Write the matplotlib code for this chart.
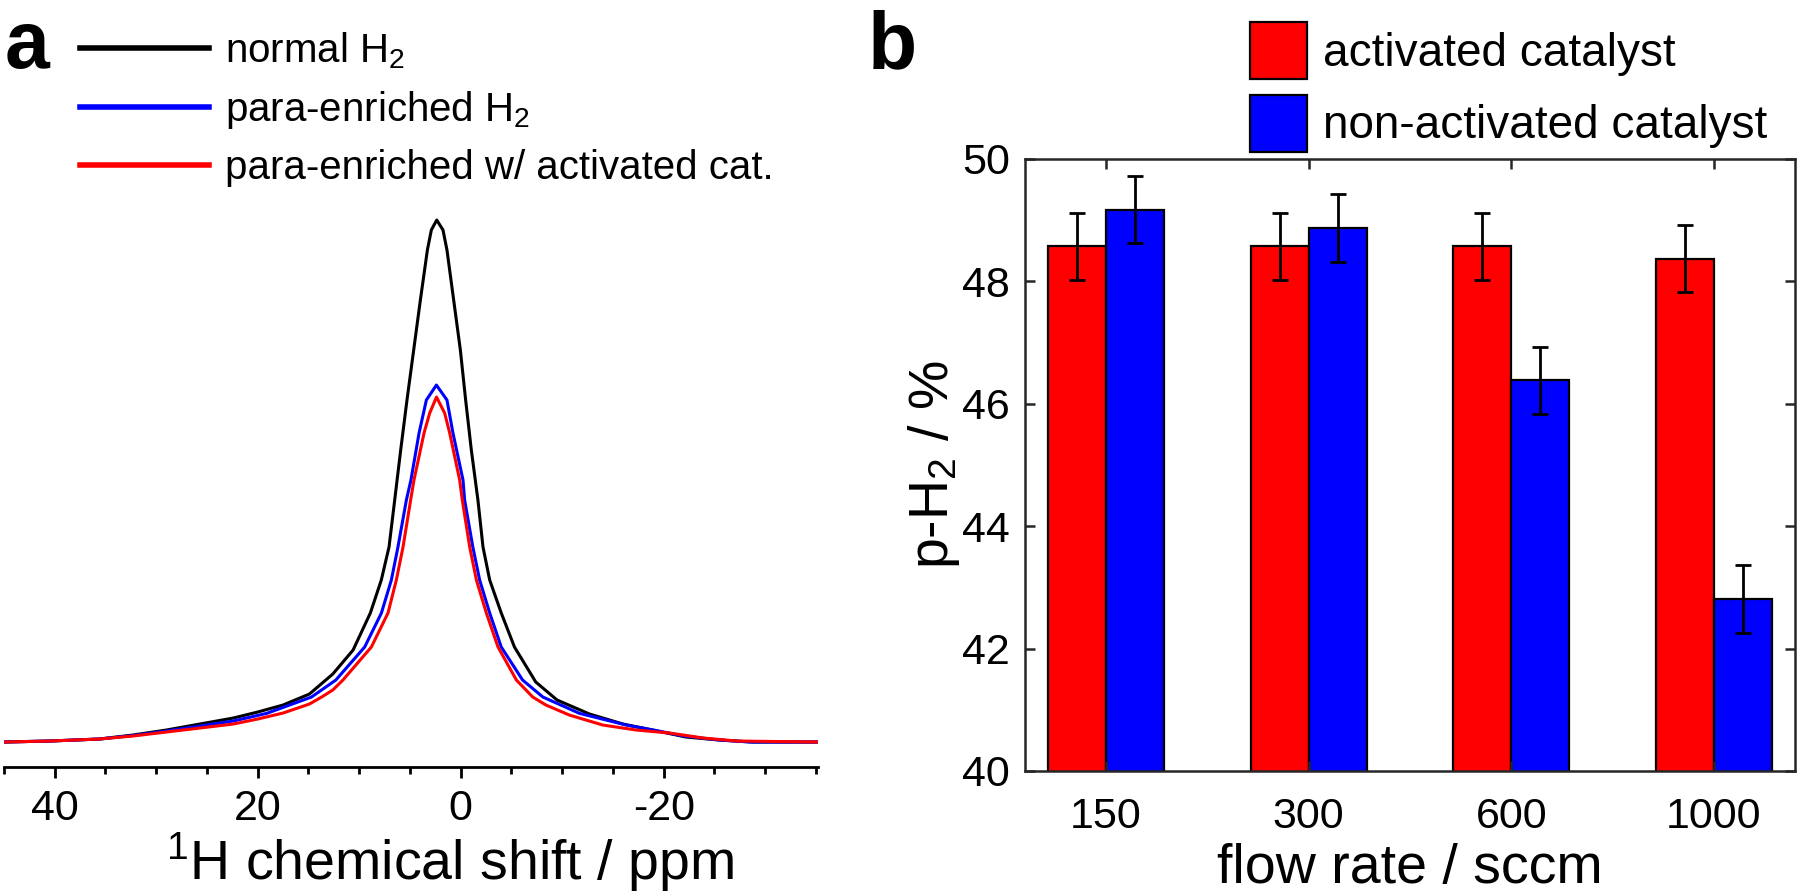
import numpy as np
import matplotlib
matplotlib.use("Agg")
import matplotlib.pyplot as plt
from matplotlib.lines import Line2D
from matplotlib.ticker import MultipleLocator

plt.rcParams['font.family'] = ['Liberation Sans', 'DejaVu Sans']
plt.rcParams['mathtext.fontset'] = 'custom'
plt.rcParams['mathtext.rm'] = 'Liberation Sans'
plt.rcParams['mathtext.it'] = 'Liberation Sans:italic'
plt.rcParams['axes.unicode_minus'] = False

# panel a: 1H spectra (ppm, intensity a.u.)
ppm_normal = [45, 40.5, 35.6, 32.3, 29.0, 25.7, 22.4, 20.0, 17.5, 14.9, 12.6, 10.6,
              8.9, 7.82, 7.06, 6.50, 5.91, 5.29, 4.63, 3.97, 3.28, 2.89, 2.36, 1.74,
              1.35, 0.69, 0.03, -0.49, -1.05, -1.70, -2.2, -2.86, -4.0, -5.3, -7.4,
              -9.5, -12.7, -16.0, -18.9, -22.2, -25.5, -28.8, -35.2]
int_normal = [0, 1, 3, 7, 12, 18, 24, 30, 37, 48, 68, 92,
              129, 162, 195, 242, 292, 342, 392, 442, 492, 512, 522, 512,
              492, 442, 392, 342, 292, 242, 195, 162, 129, 95, 60,
              42, 28, 18, 12, 5, 2, 0, 0]

ppm_para = [45, 40.5, 35.6, 32.3, 29.0, 25.7, 22.4, 19.1, 14.7, 12.3, 9.46, 7.81,
            6.83, 6.18, 5.35, 4.9, 4.1, 3.38, 2.39, 1.35, 0.76, -0.23, -0.39, -1.2,
            -1.87, -2.86, -4.0, -6.1, -8.1, -11.7, -16.3, -19.0, -22.0, -25.5,
            -28.5, -35.2]
int_para = [0, 1, 3, 6.5, 11, 16, 21, 28.7, 45, 62, 95, 129,
            162, 195, 242, 262, 309, 342, 357, 342, 309, 262, 242, 195,
            162, 129, 95, 62, 45, 28.7, 17, 12, 6, 2,
            0, 0]

ppm_cat = [45, 40.5, 35.6, 32.3, 29.0, 25.7, 22.4, 20.0, 17.5, 14.9, 13.7, 12.6,
           11.6, 8.8, 7.16, 6.34, 5.68, 4.93, 4.6, 3.61, 3.05, 2.38, 1.58, 1.08,
           0.1, -0.16, -0.89, -1.55, -2.53, -3.68, -5.49, -7.1, -8.4, -10.7,
           -14.0, -17.3, -20.6, -23.9, -27.2, -35.2]
int_cat = [0, 1, 3, 6, 10, 14, 18, 23, 29, 38, 45, 52,
           62, 95, 129, 162, 195, 242, 262, 309, 329, 345, 329, 309,
           262, 242, 195, 162, 129, 95, 62, 45, 37, 27,
           17, 12, 9, 4, 1, 0]

# panel b: p-H2 fraction
flow = ['150', '300', '600', '1000']
act = [48.57, 48.57, 48.57, 48.37]
act_err = [0.55, 0.55, 0.55, 0.55]
nonact = [49.17, 48.87, 46.38, 42.81]
nonact_err = [0.55, 0.55, 0.55, 0.55]

fig = plt.figure(figsize=(18, 8.92), dpi=100)

# ---- panel a
ax1 = fig.add_axes([0.0022, 0.1401, 0.4522, 0.6334])
ax1.plot(ppm_normal, int_normal, color='black', lw=2.2)
ax1.plot(ppm_para, int_para, color='#0000ff', lw=2.2)
ax1.plot(ppm_cat, int_cat, color='#ff0000', lw=2.2)
ax1.set_xlim(45, -35.2)
ax1.set_ylim(-25, 540)
for s in ['left', 'right', 'top']:
    ax1.spines[s].set_visible(False)
ax1.spines['bottom'].set_linewidth(2)
ax1.set_yticks([])
ax1.xaxis.set_major_locator(MultipleLocator(20))
ax1.xaxis.set_minor_locator(MultipleLocator(5))
ax1.tick_params(axis='x', which='major', direction='out', length=8, width=2,
                labelsize=31, pad=8)
ax1.tick_params(axis='x', which='minor', direction='out', length=5, width=2)
ax1.set_xlabel('$^1$H chemical shift / ppm', fontsize=40, labelpad=0)
ax1.xaxis.set_label_coords(0.548, -0.112)

leg_lines = [Line2D([], [], color='black', lw=4),
             Line2D([], [], color='#0000ff', lw=4),
             Line2D([], [], color='#ff0000', lw=4)]
ax1.legend(leg_lines, ['normal H$_2$', 'para-enriched H$_2$',
                       'para-enriched w/ activated cat.'],
           loc='upper left', bbox_to_anchor=(80 / 1800, 1 - 30 / 892),
           bbox_transform=fig.transFigure, frameon=False, fontsize=29,
           handlelength=3.2, handletextpad=0.4, labelspacing=0.45, borderpad=0,
           borderaxespad=0)

fig.text(5 / 1800, 1 - 68 / 892, 'a', fontsize=58, fontweight='bold', va='baseline')

# ---- panel b
ax2 = fig.add_axes([0.5694, 0.1357, 0.4278, 0.6861])
x = np.arange(1, len(flow) + 1)
w = 0.286
b1 = ax2.bar(x - w / 2, act, w, color='#ff0000', edgecolor='black',
             lw=1.6, label='activated catalyst')
b2 = ax2.bar(x + w / 2, nonact, w, color='#0000ff', edgecolor='black',
             lw=1.6, label='non-activated catalyst')
ax2.errorbar(x - w / 2, act, yerr=act_err, fmt='none', ecolor='black',
             elinewidth=2, capsize=6, capthick=2)
ax2.errorbar(x + w / 2, nonact, yerr=nonact_err, fmt='none', ecolor='black',
             elinewidth=2, capsize=6, capthick=2)
ax2.set_xlim(0.6, 4.4)
ax2.set_ylim(40, 50)
ax2.set_xticks(x)
ax2.set_xticklabels(flow)
ax2.set_yticks(np.arange(40, 51, 2))
for s in ax2.spines.values():
    s.set_linewidth(1.8)
    s.set_color('#262626')
ax2.tick_params(direction='in', length=7, width=1.8, color='#262626',
                top=True, right=True, labelsize=31)
ax2.tick_params(axis='x', pad=19)
ax2.tick_params(axis='y', pad=11)
ax2.set_xlabel('flow rate / sccm', fontsize=40, labelpad=4)
ax2.set_ylabel('p-H$_2$ / %', fontsize=40, labelpad=0)
ax2.legend(handles=[b1, b2], loc='upper left',
           bbox_to_anchor=(1250 / 1800, 1 - 22 / 892),
           bbox_transform=fig.transFigure, frameon=False, fontsize=33,
           handlelength=1.25, handleheight=1.55, handletextpad=0.35,
           labelspacing=0.33, borderpad=0, borderaxespad=0)

fig.text(868 / 1800, 1 - 68 / 892, 'b', fontsize=58, fontweight='bold', va='baseline')

fig.savefig('out.png', dpi=100)
